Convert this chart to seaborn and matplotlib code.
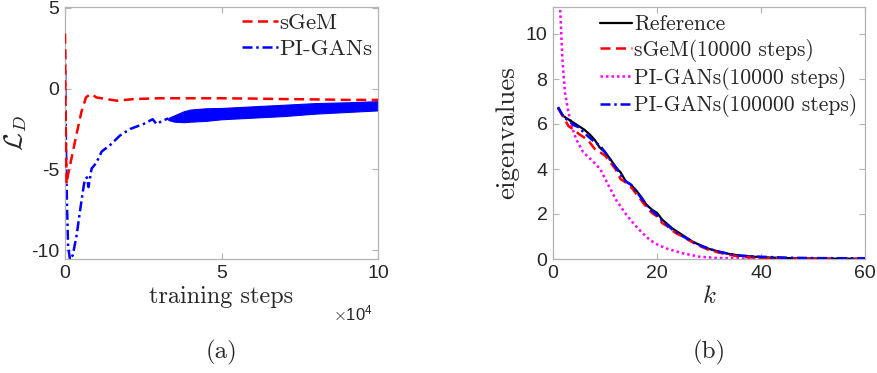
import numpy as np
import pandas as pd
import seaborn as sns
import matplotlib
matplotlib.use("Agg")
import matplotlib.pyplot as plt
from matplotlib.lines import Line2D

# ---------------- data (a) ----------------
# training steps in units of 1e4
sgem_steps = [0, 0.02, 0.05, 0.1, 0.21, 0.37, 0.53, 0.67, 0.8, 0.9, 1.0, 1.33, 1.65, 2.2, 3.0, 4.0, 5.0, 6.0, 7.0, 8.0, 9.0, 10.0]
sgem_loss = [3.4, -2.0, -5.9, -5.3, -4.3, -2.8, -1.4, -0.55, -0.35, -0.4, -0.55, -0.65, -0.75, -0.65, -0.6, -0.6, -0.6, -0.62, -0.65, -0.67, -0.7, -0.7]

pigan_steps = [0, 0.02, 0.06, 0.1, 0.16, 0.25, 0.37, 0.5, 0.6, 0.64, 0.7, 0.75, 0.85, 1.0, 1.17, 1.44, 1.76, 2.08, 2.5, 2.8, 2.93, 3.1, 3.3]
pigan_loss = [2.4, -2.0, -7.0, -9.8, -10.6, -10.3, -9.1, -7.3, -6.0, -5.6, -5.5, -6.1, -4.95, -4.6, -3.9, -3.5, -2.9, -2.5, -2.2, -1.9, -2.2, -2.0, -1.85]

# oscillating band of PI-GANs loss after ~3.3e4 steps (upper / lower envelope)
band_steps = [3.3, 3.5, 3.8, 4.0, 4.5, 5.0, 6.0, 7.0, 8.0, 9.0, 10.0]
band_upper = [-1.82, -1.65, -1.4, -1.3, -1.22, -1.2, -1.1, -1.0, -0.9, -0.85, -0.78]
band_lower = [-1.95, -2.05, -2.08, -2.05, -2.0, -1.9, -1.8, -1.7, -1.55, -1.45, -1.35]

# ---------------- data (b) ----------------
k_vals = [1, 2, 3, 4, 5, 6, 7, 8, 9, 10, 11, 12, 13, 14, 15, 16, 17, 18, 19, 20,
          21, 22, 23, 24, 25, 26, 27, 28, 30, 32, 34, 36, 40, 45, 50, 60]
ref_eig = [6.7, 6.35, 6.2, 6.05, 5.9, 5.75, 5.55, 5.3, 4.95, 4.75, 4.45, 4.1, 3.85, 3.45, 3.3, 3.05, 2.75, 2.4, 2.2, 2.05,
           1.75, 1.55, 1.35, 1.2, 1.05, 0.9, 0.75, 0.65, 0.45, 0.32, 0.22, 0.15, 0.08, 0.04, 0.02, 0.01]
sgem_eig = [6.7, 6.3, 5.9, 5.75, 5.55, 5.4, 5.2, 4.9, 4.75, 4.6, 4.3, 4.0, 3.55, 3.4, 3.2, 2.9, 2.6, 2.3, 2.05, 1.9,
            1.6, 1.45, 1.25, 1.1, 1.0, 0.85, 0.72, 0.6, 0.4, 0.28, 0.18, 0.1, 0.05, 0.02, 0.01, 0.0]
pig100k_eig = [6.75, 6.3, 6.15, 5.95, 5.85, 5.6, 5.4, 5.2, 5.05, 4.75, 4.4, 4.1, 3.75, 3.45, 3.3, 3.0, 2.7, 2.4, 2.15, 1.95,
               1.7, 1.5, 1.3, 1.15, 1.0, 0.88, 0.75, 0.63, 0.45, 0.32, 0.22, 0.15, 0.1, 0.06, 0.04, 0.03]
k_pig10k = [1, 1.4, 1.8, 2.3, 2.9, 3.6, 4.5, 5.8, 7.4, 8.5, 9.3, 10.5, 12.2, 14, 15.4, 17, 18.6, 20, 21.8, 25, 28.2, 31.4, 35, 40, 50, 60]
pig10k_eig = [12.5, 11.0, 8.9, 7.4, 6.6, 5.9, 5.3, 4.75, 4.4, 4.15, 3.9, 3.35, 2.6, 2.0, 1.6, 1.2, 0.85, 0.65, 0.47, 0.25, 0.1, 0.05, 0.03, 0.01, 0.0, 0.0]

# ---------------- style ----------------
sns.set_style("white")
plt.rcParams['font.family'] = ['Liberation Sans', 'DejaVu Sans']
plt.rcParams['mathtext.fontset'] = 'cm'
plt.rcParams['axes.unicode_minus'] = False

SERIF = ['cmr10', 'DejaVu Serif']
TICK_FS = 14
SPINE = '#b3b3b3'
TXT = '#262626'

fig = plt.figure(figsize=(8.77, 3.73), dpi=100)
axA = fig.add_axes([65/877, 1 - 259/373, (378 - 65)/877, (259 - 7)/373])
axB = fig.add_axes([553/877, 1 - 259/373, (865 - 553)/877, (259 - 7)/373])

RED = '#ff0000'
BLUE = '#0000ff'
MAG = '#ff00ff'
DASH = (0, (4, 2.2))
DASHDOT = (0, (4, 1.5, 1, 1.5))
DOT = (0, (1, 1.2))

# (a)
dfa_s = pd.DataFrame({'steps': sgem_steps, 'loss': sgem_loss})
dfa_p = pd.DataFrame({'steps': pigan_steps, 'loss': pigan_loss})
sns.lineplot(data=dfa_s, x='steps', y='loss', ax=axA, color=RED, lw=1.8, sort=False, zorder=3,
             linestyle=DASH)
sns.lineplot(data=dfa_p, x='steps', y='loss', ax=axA, color=BLUE, lw=1.8, sort=False, zorder=2,
             linestyle=DASHDOT)
axA.fill_between(band_steps, band_lower, band_upper, color=BLUE, lw=0.8, edgecolor=BLUE, zorder=2)

axA.set_xlim(0, 10)
axA.set_ylim(-10.55, 5.05)
axA.set_xticks([0, 5, 10])
axA.set_yticks([-10, -5, 0, 5])
axA.set_yticklabels(['-10', '-5', '0', '5'])
axA.set_xlabel('training steps', fontfamily=SERIF, fontsize=17.5, labelpad=3)
axA.set_ylabel(r'$\mathcal{L}_D$', fontsize=19)
axA.yaxis.set_label_coords(-36/313, 0.5)

legA = [Line2D([0], [0], color=RED, lw=1.8, linestyle=DASH),
        Line2D([0], [0], color=BLUE, lw=1.8, linestyle=DASHDOT)]
axA.legend(legA, ['sGeM', 'PI-GANs'], loc='upper right', frameon=False,
           prop={'family': SERIF, 'size': 16.5}, handlelength=1.55, handletextpad=0.05,
           borderaxespad=0.0, borderpad=0.25, labelspacing=0.25)

# (b)
dfb = pd.DataFrame({'k': k_vals, 'ref': ref_eig, 'sgem': sgem_eig, 'pig100k': pig100k_eig})
dfb2 = pd.DataFrame({'k': k_pig10k, 'pig10k': pig10k_eig})
sns.lineplot(data=dfb2, x='k', y='pig10k', ax=axB, color=MAG, lw=1.8, linestyle=DOT, zorder=2)
sns.lineplot(data=dfb, x='k', y='ref', ax=axB, color='black', lw=1.6, zorder=3)
sns.lineplot(data=dfb, x='k', y='sgem', ax=axB, color=RED, lw=1.8, linestyle=DASH, zorder=4)
sns.lineplot(data=dfb, x='k', y='pig100k', ax=axB, color=BLUE, lw=1.8, linestyle=DASHDOT, zorder=5)

axB.set_xlim(0, 60)
axB.set_ylim(0, 11.2)
axB.set_xticks([0, 20, 40, 60])
axB.set_yticks([0, 2, 4, 6, 8, 10])
axB.set_xlabel(r'$k$', fontsize=18, labelpad=2)
axB.set_ylabel('eigenvalues', fontfamily=SERIF, fontsize=19.5, labelpad=5)

legB = [Line2D([0], [0], color='black', lw=1.6),
        Line2D([0], [0], color=RED, lw=1.8, linestyle=DASH),
        Line2D([0], [0], color=MAG, lw=1.8, linestyle=DOT),
        Line2D([0], [0], color=BLUE, lw=1.8, linestyle=DASHDOT)]
axB.legend(legB, ['Reference', 'sGeM(10000 steps)', 'PI-GANs(10000 steps)', 'PI-GANs(100000 steps)'],
           loc='upper right', frameon=False, prop={'family': SERIF, 'size': 15.5},
           handlelength=1.5, handletextpad=0.1, borderaxespad=0.0, borderpad=0.35, labelspacing=0.22)

for ax in (axA, axB):
    for s in ax.spines.values():
        s.set_visible(True)
        s.set_color(SPINE)
        s.set_linewidth(0.9)
    ax.tick_params(direction='in', length=4, width=0.8, color=SPINE, labelsize=TICK_FS,
                   labelcolor=TXT, top=True, right=True, bottom=True, left=True, pad=4)
    ax.xaxis.label.set_color(TXT)
    ax.yaxis.label.set_color(TXT)

fig.text(333/877, 1 - 313/373, r'$\times\mathregular{10^4}$', fontsize=12, color=TXT, ha='left', va='center',
         fontfamily=['Liberation Sans', 'DejaVu Sans'])
fig.text(222/877, 1 - 352/373, '(a)', fontfamily=SERIF, fontsize=18, color=TXT, ha='center', va='center')
fig.text(709/877, 1 - 352/373, '(b)', fontfamily=SERIF, fontsize=18, color=TXT, ha='center', va='center')

fig.savefig('out.png', dpi=100)
